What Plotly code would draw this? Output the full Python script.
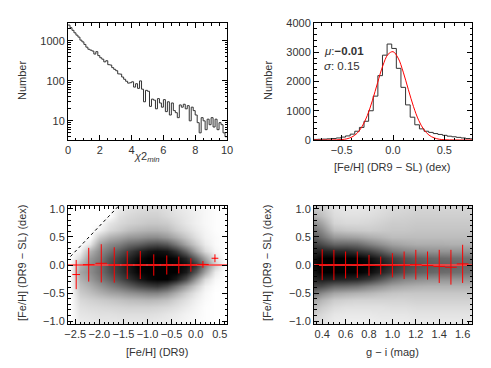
import numpy as np
import plotly.graph_objects as go

W, H = 491, 368
OFF = 8                      # page body margin in front of the plot div
FW, FH = W - OFF, H - OFF    # figure size so that the page is W x H

# ---- top left: chi2_min histogram (bin width 0.125)
chi_edges = np.arange(0, 10.001, 0.125)
chi_counts = [2500, 2150, 1850, 1600, 1400, 1250, 1050, 950,
              820, 700, 620, 590, 560, 470, 540, 430,
              380, 350, 300, 320, 255, 250, 215, 195,
              180, 150, 148, 125, 110, 98, 88, 90,
              95, 70, 85, 65, 100, 62, 30, 58,
              55, 23, 35, 33, 20, 36, 28, 22,
              34, 17, 30, 14, 28, 18, 16, 12,
              25, 22, 26, 20, 24, 10, 22, 18,
              14, 9, 5, 12, 10, 6, 11, 8,
              12, 7, 11, 6, 9, 8, 5, 4]

# ---- top right: [Fe/H] difference histogram + gaussian fit
dfe_edges = np.round(np.arange(-0.7775, 0.80, 0.045), 4)
dfe_counts = [20, 25, 30, 40, 50, 70, 100, 140, 200, 300, 430, 640, 1000, 1500,
              2200, 2900, 3280, 3130, 2450, 1800, 1200, 780, 520, 380, 300, 260,
              220, 190, 160, 130, 110, 90, 70, 50, 40]
fit_x = [-0.8, -0.75, -0.7, -0.65, -0.6, -0.55, -0.5, -0.45, -0.4, -0.35, -0.3,
         -0.25, -0.2, -0.15, -0.1, -0.05, 0.0, 0.05, 0.1, 0.15, 0.2, 0.25, 0.3,
         0.35, 0.4, 0.45, 0.5, 0.55, 0.6, 0.65, 0.7, 0.75, 0.8]
fit_y = [0, 0, 0, 0, 1, 5, 15, 40, 103, 230, 470, 840, 1360, 1960, 2530, 2920,
         3020, 2800, 2320, 1720, 1140, 675, 360, 170, 73, 27, 9, 3, 1, 0, 0, 0, 0]

# ---- bottom panels: point density (0 = empty, 1 = saturated black)
dens_y = [-1.0, -0.875, -0.75, -0.625, -0.5, -0.375, -0.25, -0.125, 0.0,
          0.125, 0.25, 0.375, 0.5, 0.625, 0.75, 0.875, 1.0]

feh_x = [-2.6, -2.4, -2.2, -2.0, -1.8, -1.6, -1.4, -1.2, -1.0, -0.8, -0.6,
         -0.4, -0.2, 0.0, 0.2, 0.4, 0.6]
feh_dens = [
    [0, 0.08, 0.09, 0.1, 0.1, 0.1, 0.1, 0.1, 0.1, 0.09, 0.08, 0.06, 0.04, 0.02, 0.01, 0, 0],
    [0, 0.1, 0.11, 0.12, 0.12, 0.13, 0.13, 0.13, 0.13, 0.12, 0.1, 0.08, 0.05, 0.03, 0.01, 0, 0],
    [0, 0.12, 0.14, 0.15, 0.16, 0.17, 0.18, 0.18, 0.18, 0.17, 0.15, 0.12, 0.08, 0.04, 0.01, 0, 0],
    [0, 0.15, 0.18, 0.2, 0.22, 0.24, 0.26, 0.27, 0.28, 0.27, 0.24, 0.18, 0.12, 0.06, 0.02, 0, 0],
    [0, 0.2, 0.25, 0.3, 0.35, 0.38, 0.42, 0.45, 0.48, 0.48, 0.42, 0.32, 0.2, 0.1, 0.03, 0, 0],
    [0, 0.25, 0.32, 0.4, 0.48, 0.55, 0.62, 0.7, 0.75, 0.78, 0.7, 0.55, 0.38, 0.2, 0.06, 0.01, 0],
    [0, 0.3, 0.4, 0.5, 0.6, 0.7, 0.8, 0.9, 0.97, 1, 1, 0.9, 0.7, 0.4, 0.15, 0.03, 0],
    [0, 0.35, 0.45, 0.55, 0.68, 0.78, 0.88, 0.98, 1, 1, 1, 1, 0.9, 0.65, 0.35, 0.08, 0],
    [0, 0.3, 0.45, 0.55, 0.7, 0.8, 0.9, 1, 1, 1, 1, 1, 0.95, 0.8, 0.5, 0.2, 0.01],
    [0, 0.15, 0.4, 0.5, 0.65, 0.75, 0.85, 0.95, 1, 1, 1, 0.97, 0.85, 0.6, 0.35, 0.1, 0],
    [0, 0.05, 0.3, 0.45, 0.55, 0.65, 0.75, 0.85, 0.92, 0.95, 0.92, 0.8, 0.6, 0.35, 0.15, 0.04, 0],
    [0, 0, 0.1, 0.35, 0.45, 0.5, 0.58, 0.62, 0.68, 0.7, 0.65, 0.52, 0.35, 0.2, 0.08, 0.02, 0],
    [0, 0, 0, 0.2, 0.3, 0.35, 0.4, 0.42, 0.45, 0.45, 0.4, 0.32, 0.22, 0.12, 0.05, 0.02, 0],
    [0, 0, 0, 0.05, 0.15, 0.2, 0.25, 0.28, 0.3, 0.3, 0.27, 0.2, 0.14, 0.08, 0.04, 0.01, 0],
    [0, 0, 0, 0, 0.1, 0.15, 0.18, 0.2, 0.22, 0.22, 0.2, 0.15, 0.1, 0.06, 0.03, 0.01, 0],
    [0, 0, 0, 0, 0, 0.12, 0.15, 0.17, 0.18, 0.18, 0.15, 0.12, 0.09, 0.06, 0.03, 0.01, 0],
    [0, 0, 0, 0, 0, 0.08, 0.12, 0.14, 0.15, 0.15, 0.13, 0.1, 0.08, 0.05, 0.03, 0.01, 0],
]
# SL lower limit shows up as a dense diagonal edge
edge_x = [-2.6, -1.6]
edge_y = [0.15, 1.05]

gi_x = [0.3, 0.4, 0.5, 0.6, 0.7, 0.8, 0.9, 1.0, 1.1, 1.2, 1.3, 1.4, 1.5, 1.6, 1.7]
gi_dens = [
    [0.18, 0.12, 0.08, 0.07, 0.07, 0.07, 0.08, 0.08, 0.08, 0.09, 0.09, 0.09, 0.09, 0.09, 0.09],
    [0.22, 0.15, 0.1, 0.09, 0.09, 0.09, 0.1, 0.1, 0.1, 0.11, 0.11, 0.11, 0.11, 0.11, 0.11],
    [0.3, 0.2, 0.14, 0.12, 0.12, 0.12, 0.12, 0.13, 0.13, 0.14, 0.14, 0.14, 0.14, 0.14, 0.14],
    [0.4, 0.28, 0.2, 0.18, 0.17, 0.17, 0.17, 0.17, 0.17, 0.18, 0.18, 0.18, 0.18, 0.18, 0.18],
    [0.6, 0.45, 0.35, 0.32, 0.3, 0.28, 0.25, 0.23, 0.22, 0.22, 0.22, 0.22, 0.22, 0.22, 0.22],
    [0.75, 0.7, 0.6, 0.58, 0.55, 0.48, 0.42, 0.36, 0.33, 0.31, 0.3, 0.3, 0.3, 0.3, 0.3],
    [0.85, 0.9, 0.88, 0.87, 0.85, 0.78, 0.66, 0.55, 0.48, 0.45, 0.43, 0.42, 0.42, 0.42, 0.42],
    [0.9, 1, 1, 1, 1, 0.96, 0.86, 0.76, 0.68, 0.63, 0.6, 0.58, 0.57, 0.56, 0.56],
    [0.95, 1, 1, 1, 1, 1, 0.92, 0.82, 0.73, 0.68, 0.65, 0.63, 0.62, 0.6, 0.6],
    [0.9, 1, 1, 1, 1, 0.95, 0.85, 0.75, 0.67, 0.62, 0.6, 0.58, 0.57, 0.56, 0.56],
    [0.85, 0.88, 0.85, 0.85, 0.8, 0.74, 0.64, 0.53, 0.48, 0.45, 0.43, 0.42, 0.42, 0.42, 0.42],
    [0.8, 0.7, 0.6, 0.6, 0.58, 0.5, 0.43, 0.37, 0.34, 0.32, 0.32, 0.32, 0.31, 0.31, 0.31],
    [0.7, 0.55, 0.4, 0.38, 0.36, 0.32, 0.29, 0.26, 0.26, 0.26, 0.26, 0.26, 0.26, 0.26, 0.26],
    [0.6, 0.45, 0.25, 0.22, 0.21, 0.2, 0.21, 0.22, 0.22, 0.23, 0.23, 0.23, 0.23, 0.23, 0.23],
    [0.5, 0.35, 0.17, 0.15, 0.15, 0.16, 0.18, 0.2, 0.2, 0.21, 0.21, 0.21, 0.21, 0.21, 0.21],
    [0.35, 0.25, 0.14, 0.12, 0.12, 0.13, 0.15, 0.17, 0.18, 0.19, 0.19, 0.19, 0.19, 0.19, 0.19],
    [0.25, 0.2, 0.12, 0.1, 0.1, 0.11, 0.13, 0.15, 0.16, 0.17, 0.17, 0.17, 0.17, 0.17, 0.17],
]

# binned mean / scatter (red crosses)
feh_bin = [-2.48, -2.22, -1.96, -1.69, -1.42, -1.15, -0.87, -0.60, -0.35, -0.10, 0.15, 0.40]
feh_mean = [-0.17, 0.005, 0.03, 0.0, 0.0, 0.0, 0.0, 0.0, 0.0, 0.0, 0.01, 0.12]
feh_sig = [0.26, 0.30, 0.34, 0.315, 0.25, 0.25, 0.19, 0.17, 0.15, 0.12, 0.06, 0.07]
feh_hw = [0.08, 0.12, 0.12, 0.12, 0.12, 0.12, 0.12, 0.12, 0.12, 0.12, 0.12, 0.07]

gi_bin = [0.4, 0.5, 0.6, 0.7, 0.8, 0.9, 1.0, 1.1, 1.2, 1.3, 1.4, 1.5, 1.6]
gi_mean = [0.005, 0.0, 0.0, 0.005, -0.005, -0.01, -0.005, -0.005, 0.005, -0.01, -0.025, -0.04, 0.02]
gi_sig = [0.275, 0.27, 0.24, 0.235, 0.185, 0.16, 0.215, 0.245, 0.265, 0.25, 0.295, 0.31, 0.34]

FONT = "Liberation Sans"
TICKFONT = "Liberation Sans Narrow, Liberation Sans"
TXT = "#333333"
RED = "#ff0000"

fig = go.Figure()

# top left
fig.add_trace(go.Scatter(x=chi_edges, y=chi_counts + [chi_counts[-1]], mode="lines",
                         line=dict(shape="hv", color="#333333", width=1),
                         xaxis="x", yaxis="y"))

# top right
fig.add_trace(go.Scatter(x=dfe_edges, y=dfe_counts + [dfe_counts[-1]], mode="lines",
                         line=dict(shape="hv", color="#333333", width=1),
                         xaxis="x2", yaxis="y2"))
fig.add_trace(go.Scatter(x=fit_x, y=fit_y, mode="lines",
                         line=dict(shape="spline", color=RED, width=1),
                         xaxis="x2", yaxis="y2"))

grey = [[0, "white"], [1, "black"]]

# bottom left
fig.add_trace(go.Heatmap(x=feh_x, y=dens_y, z=feh_dens, colorscale=grey, zmin=0, zmax=1,
                         zsmooth="best", showscale=False, xaxis="x3", yaxis="y3"))
fig.add_trace(go.Scatter(x=edge_x, y=edge_y, mode="lines",
                         line=dict(color="black", width=1, dash="dot"),
                         xaxis="x3", yaxis="y3"))
fig.add_trace(go.Scatter(x=[-2.65, 0.65], y=[0, 0], mode="lines",
                         line=dict(color="rgba(255,70,70,0.8)", width=2),
                         xaxis="x3", yaxis="y3"))
fig.add_trace(go.Scatter(x=feh_bin, y=feh_mean, mode="markers", marker=dict(size=1, color=RED),
                         error_x=dict(type="data", array=feh_hw, color=RED, thickness=1, width=0),
                         error_y=dict(type="data", array=feh_sig, color=RED, thickness=1, width=0),
                         xaxis="x3", yaxis="y3"))

# bottom right
fig.add_trace(go.Heatmap(x=gi_x, y=dens_y, z=gi_dens, colorscale=grey, zmin=0, zmax=1,
                         zsmooth="best", showscale=False, xaxis="x4", yaxis="y4"))
fig.add_trace(go.Scatter(x=[0.33, 1.68], y=[0, 0], mode="lines",
                         line=dict(color="rgba(255,70,70,0.8)", width=2),
                         xaxis="x4", yaxis="y4"))
fig.add_trace(go.Scatter(x=gi_bin, y=gi_mean, mode="markers", marker=dict(size=1, color=RED),
                         error_x=dict(type="data", array=[0.05] * len(gi_bin), color=RED,
                                      thickness=1, width=0),
                         error_y=dict(type="data", array=gi_sig, color=RED, thickness=1, width=0),
                         xaxis="x4", yaxis="y4"))


# page pixel -> paper fraction
def fx(px):
    return (px - OFF) / FW


def fy(py):
    return 1 - (py - OFF) / FH


def ax(px0, px1, vertical=False, **kw):
    dom = [fy(px1), fy(px0)] if vertical else [fx(px0), fx(px1)]
    d = dict(domain=dom, showgrid=False, zeroline=False, showline=True, linecolor="black",
             linewidth=1, mirror="allticks", ticks="inside", ticklen=5, tickcolor="black",
             automargin=False, tickangle=0,
             tickfont=dict(family=TICKFONT, size=11, color=TXT))
    d.update(kw)
    return d


minor = lambda step: dict(ticks="inside", ticklen=2.5, dtick=step, tickcolor="black")
log_minor = [4, 5, 6, 7, 8, 9, 20, 30, 40, 50, 60, 70, 80, 90,
             200, 300, 400, 500, 600, 700, 800, 900, 2000, 3000]

fig.update_layout(
    template="none",
    width=FW, height=FH, margin=dict(l=0, r=0, t=0, b=0, autoexpand=False),
    paper_bgcolor="white", plot_bgcolor="white", showlegend=False,
    xaxis=ax(68, 227, range=[0, 10], tickvals=[0, 2, 4, 6, 8, 10], minor=minor(0.5), anchor="y"),
    yaxis=ax(23, 140, True, type="log", range=[0.52, 3.45], tickvals=[10, 100, 1000],
             minor=dict(ticks="inside", ticklen=2.5, tickvals=log_minor, tickcolor="black"),
             anchor="x"),
    xaxis2=ax(314, 472, range=[-0.77, 0.77], tickvals=[-0.5, 0, 0.5], tickformat=".1f",
              minor=minor(0.1), anchor="y2"),
    yaxis2=ax(23, 140, True, range=[0, 4000], tickvals=[0, 1000, 2000, 3000, 4000],
              minor=minor(200), anchor="x2"),
    xaxis3=ax(68, 227, range=[-2.65, 0.65], tickvals=[-2.5, -2.0, -1.5, -1.0, -0.5, 0.0, 0.5],
              tickformat=".1f", minor=minor(0.1), anchor="y3"),
    yaxis3=ax(206, 324, True, range=[-1.05, 1.05], tickvals=[-1.0, -0.5, 0.0, 0.5, 1.0],
              tickformat=".1f", minor=minor(0.1), anchor="x3"),
    xaxis4=ax(314, 472, range=[0.33, 1.68], tickvals=[0.4, 0.6, 0.8, 1.0, 1.2, 1.4, 1.6],
              tickformat=".1f", minor=minor(0.05), anchor="y4"),
    yaxis4=ax(206, 324, True, range=[-1.05, 1.05], tickvals=[-1.0, -0.5, 0.0, 0.5, 1.0],
              tickformat=".1f", minor=minor(0.1), anchor="x4"),
)


def label(text, px, py, angle=0, size=11, align="center"):
    fig.add_annotation(text=text, x=fx(px), y=fy(py), xref="paper", yref="paper",
                       showarrow=False, textangle=angle, xanchor=align, yanchor="middle",
                       font=dict(family=FONT, size=size, color=TXT))


label("Number", 22, 81, -90)
label("<i>χ</i>2<sub><i>min</i></sub>", 147, 157)
label("Number", 268, 81, -90)
label("[Fe/H] (DR9 − SL) (dex)", 392, 167)
label("<i>μ</i>:<b>−0.01</b>", 322, 51, align="left", size=11.5)
label("<i>σ</i>: 0.15", 322, 66, align="left", size=11.5)
label("[Fe/H] (DR9 − SL) (dex)", 22, 263, -90)
label("[Fe/H] (DR9)", 157, 352)
label("[Fe/H] (DR9 − SL) (dex)", 267, 263, -90)
label("g − i (mag)", 392, 352)

fig.write_html("out.html")
